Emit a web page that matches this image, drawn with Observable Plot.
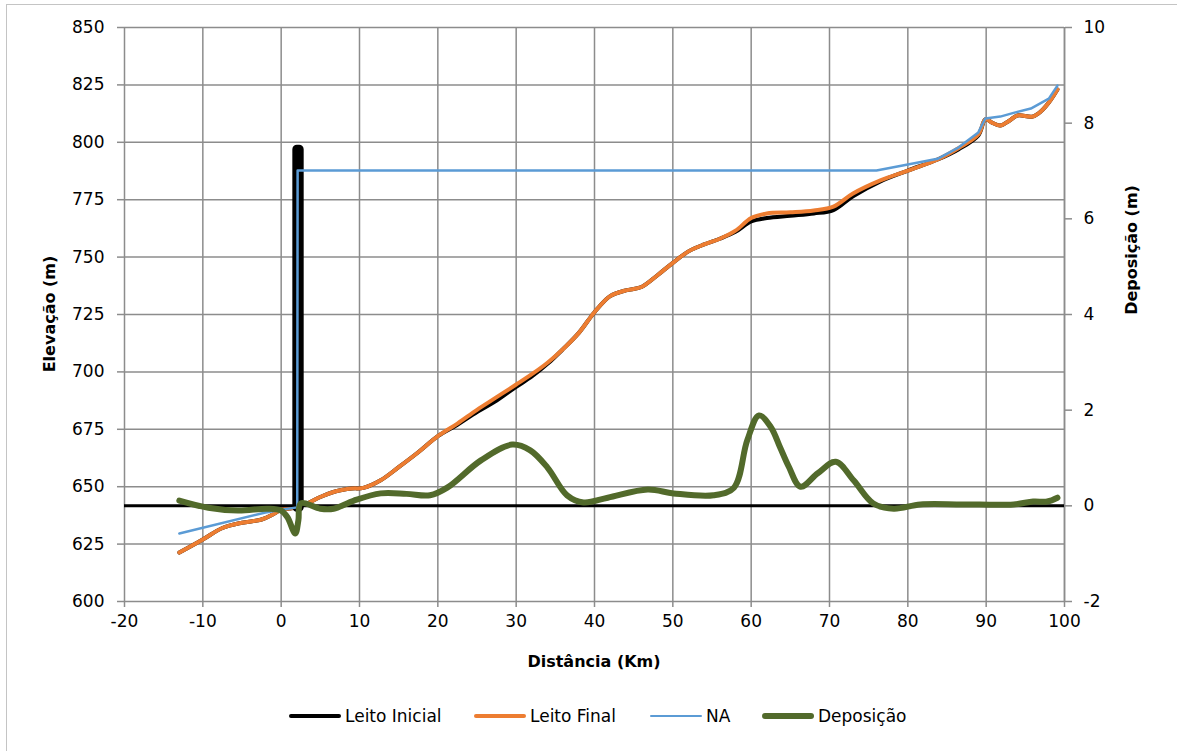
<!DOCTYPE html>
<html><head><meta charset="utf-8">
<script src="https://cdn.jsdelivr.net/npm/d3@7"></script>
<script src="https://cdn.jsdelivr.net/npm/@observablehq/plot@0.6"></script>
<style>
body{margin:0;background:#fff;font-family:"DejaVu Sans",sans-serif;}
#wrap{position:relative;width:1177px;height:751px;overflow:hidden;background:#fff;}
#border{position:absolute;left:6px;top:4px;width:1200px;height:800px;border:1px solid #c4c4c4;}
#chart{position:absolute;left:0;top:0;}
.lg{position:absolute;top:705px;height:22px;font-size:17px;line-height:22px;color:#000;}
.sw{position:absolute;border-radius:3px;}
</style></head>
<body><div id="wrap"><div id="border"></div><div id="chart"></div><div id="legend"></div></div>
<script>
// ---- data ----
const xTicks = [-20, -10, 0, 10, 20, 30, 40, 50, 60, 70, 80, 90, 100];
const yTicks = [600, 625, 650, 675, 700, 725, 750, 775, 800, 825, 850];
const depTicks = [-2, 0, 2, 4, 6, 8, 10];

const finalX = [-13, -10, -7.5, -5, -2.5, -1, 0, 1, 2, 3.4, 5, 7, 9, 10.5, 12.7, 15, 17.5, 20, 22.5, 25, 27.5, 30, 32, 34, 36, 38, 40, 42, 44, 46, 48, 50, 52, 54, 56, 58, 60, 62, 65, 68, 70.5, 73, 76.5, 80, 83.8, 86.5, 89, 89.9, 90.8, 91.8, 93, 94, 95.9, 97, 98, 99.1];
const finalY = [621.3, 627, 632, 634.3, 635.7, 638, 640, 640.5, 641, 642.8, 645.5, 648, 649.2, 649.5, 652.8, 658.5, 665, 672, 677.5, 683.5, 689, 694.5, 699, 704, 710, 717, 726, 733, 735.5, 737, 742, 747.5, 752.5, 755.5, 758, 761.5, 767, 769, 769.5, 770.3, 772, 777.7, 783.4, 787.7, 792.5, 797.5, 803.4, 810, 808.5, 807.3, 809.5, 811.7, 811.2, 813.5, 817.3, 823];

const initialX = finalX;
const initialY = [621.3, 627, 632, 634.3, 635.7, 638, 640, 640.5, 641, 642.8, 645.5, 648, 649.2, 649.5, 652.8, 658.5, 665, 672, 677, 682.5, 687.5, 693.5, 698, 703.5, 710, 717, 726, 733, 735.5, 737, 742, 747.5, 752.5, 755.5, 758, 761, 765.5, 767, 768, 769, 770.5, 776.5, 783, 787.7, 792.5, 797, 803, 810, 808.5, 807.3, 809.5, 811.7, 811.2, 813.5, 817.3, 823];

const damX = [2.0, 2.0, 2.3, 2.3];
const damY = [641, 797, 797, 641];

const naX = [-13, -2, 0, 2.05, 2.1, 76, 80, 83.8, 86.5, 89, 89.9, 91.8, 93.5, 95.7, 98, 99.1];
const naY = [629.6, 638.8, 640, 641, 787.7, 787.7, 790.3, 792.8, 797.8, 804.3, 810.4, 811.2, 812.8, 814.7, 819, 824.7];

const depX = [-13, -9.3, -5.5, -1.7, 0, 0.8, 1.8, 2.2, 2.5, 5, 6.7, 9.3, 12.7, 16, 19, 21.2, 25.5, 29.5, 31.8, 34, 36.5, 38.6, 41.7, 46.8, 50.1, 55.2, 57.8, 59.5, 61, 62.5, 63.7, 64.8, 66.3, 68.5, 70.8, 73.1, 75.6, 78.2, 81.6, 87, 93.5, 96, 97.8, 99.1];
const depY = [0.11, -0.04, -0.1, -0.06, -0.1, -0.24, -0.58, -0.3, 0.05, -0.06, -0.06, 0.11, 0.26, 0.25, 0.22, 0.38, 0.95, 1.28, 1.16, 0.8, 0.22, 0.07, 0.17, 0.34, 0.26, 0.22, 0.38, 1.37, 1.89, 1.65, 1.22, 0.82, 0.4, 0.68, 0.92, 0.53, 0.05, -0.06, 0.03, 0.03, 0.03, 0.09, 0.09, 0.17];

const seriesNames = ["Leito Inicial", "Leito Final", "NA", "Deposição"];
const seriesColors = ["#000000", "#ED7D31", "#5B9BD5", "#526A2B"];
const seriesWidths = [4, 4, 2.5, 6];

// secondary axis mapping: deposition [-2,10] -> elevation [600,850]
const toE = d => 600 + (d + 2) * 250 / 12;
const fromE = e => (e - 600) * 12 / 250 - 2;

const zip = (xs, ys) => xs.map((x, i) => ({x, y: ys[i]}));
const initial = zip(initialX, initialY);
const fin = zip(finalX, finalY);
const dam = zip(damX, damY);
const na = zip(naX, naY);
const dep = zip(depX, depY).map(d => ({x: d.x, y: toE(d.y)}));

const grid = "#8c8c8c";
const chart = Plot.plot({
  width: 1177, height: 680,
  marginLeft: 124, marginRight: 113, marginTop: 27, marginBottom: 79,
  x: {domain: [-20, 100]},
  y: {domain: [600, 850]},
  style: {fontFamily: "DejaVu Sans", fontSize: "17px", color: "#000", background: "transparent", overflow: "visible"},
  marks: [
    Plot.gridX(xTicks, {stroke: grid, strokeOpacity: 1, strokeWidth: 1.5}),
    Plot.gridY(yTicks, {stroke: grid, strokeOpacity: 1, strokeWidth: 1.5}),
    Plot.axisX(xTicks, {tickSize: 6, tickPadding: 7, stroke: grid, strokeWidth: 1.5, label: null, tickFormat: d => String(d)}),
    Plot.axisY(yTicks, {anchor: "left", tickSize: 7, tickPadding: 13, stroke: grid, strokeWidth: 1.5, label: null, tickFormat: d => String(d)}),
    Plot.axisY(depTicks.map(toE), {anchor: "right", tickSize: 7, tickPadding: 12, stroke: grid, strokeWidth: 1.5, label: null, tickFormat: v => String(Math.round(fromE(v)))}),
    Plot.ruleX([100], {stroke: grid, strokeWidth: 1.5}),
    Plot.line(initial, {x: "x", y: "y", stroke: seriesColors[0], strokeWidth: seriesWidths[0], curve: "catmull-rom"}),
    Plot.line(fin, {x: "x", y: "y", stroke: seriesColors[1], strokeWidth: seriesWidths[1], curve: "catmull-rom"}),
    Plot.ruleY([toE(0)], {stroke: "#000", strokeWidth: 3}),
    Plot.line(dam, {x: "x", y: "y", stroke: seriesColors[0], strokeWidth: 9, strokeLinecap: "round", strokeLinejoin: "round"}),
    Plot.line(na, {x: "x", y: "y", stroke: seriesColors[2], strokeWidth: seriesWidths[2]}),
    Plot.line(dep, {x: "x", y: "y", stroke: seriesColors[3], strokeWidth: seriesWidths[3], curve: "catmull-rom"})
  ]
});
document.getElementById("chart").appendChild(chart);

const svg = d3.select(chart);
svg.append("text").attr("x", 594).attr("y", 662).attr("text-anchor", "middle").attr("dominant-baseline", "middle")
  .attr("font-weight", "bold").attr("font-size", 16).attr("fill", "#000").text("Distância (Km)");
svg.append("text").attr("transform", "translate(50,314) rotate(-90)").attr("text-anchor", "middle").attr("dominant-baseline", "middle")
  .attr("font-weight", "bold").attr("font-size", 16).attr("fill", "#000").text("Elevação (m)");
svg.append("text").attr("transform", "translate(1132,250) rotate(-90)").attr("text-anchor", "middle").attr("dominant-baseline", "middle")
  .attr("font-weight", "bold").attr("font-size", 16).attr("fill", "#000").text("Deposição (m)");

// legend
const legendLeft = [289, 474, 650, 762];
const lg = document.getElementById("legend");
seriesNames.forEach((name, i) => {
  const sw = document.createElement("div");
  sw.className = "sw";
  const h = seriesWidths[i];
  sw.style.cssText = `left:${legendLeft[i]}px;top:${716 - h / 2}px;width:52px;height:${h}px;background:${seriesColors[i]};`;
  lg.appendChild(sw);
  const t = document.createElement("div");
  t.className = "lg";
  t.style.left = (legendLeft[i] + 56) + "px";
  t.textContent = name;
  lg.appendChild(t);
});
</script>
</body></html>
